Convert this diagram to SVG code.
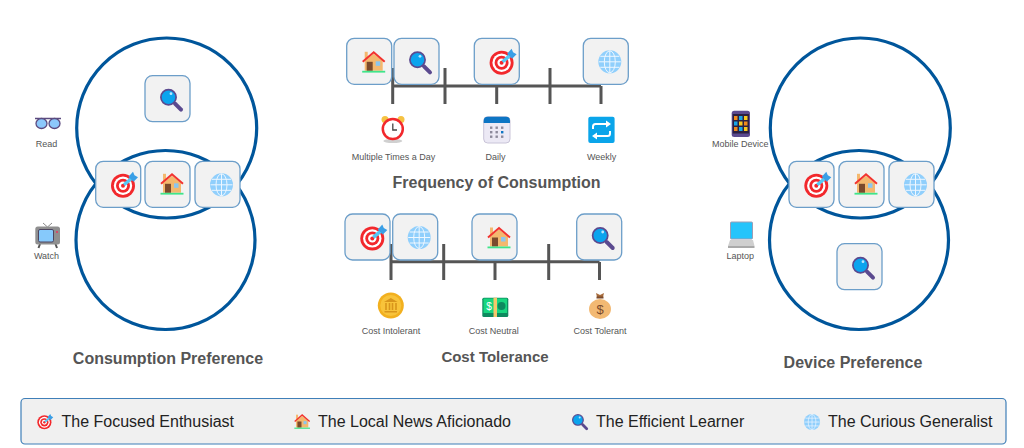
<svg xmlns="http://www.w3.org/2000/svg" width="1024" height="448" viewBox="0 0 1024 448">
<style>
text{font-family:"Liberation Sans",Arial,sans-serif}
.venn{fill:none;stroke:#00569b;stroke-width:3.2}
.box{fill:#f2f2f2;stroke:#6c9ec9;stroke-width:1.3}
.axis{stroke:#555;stroke-width:3;fill:none}
.title{font-size:16px;font-weight:bold;fill:#555;text-anchor:middle}
.lab{font-size:9px;fill:#555;text-anchor:middle}
.leg{font-size:16px;fill:#222}
</style>
<defs>
<g id="i-target">
<circle cx="12" cy="14" r="12" fill="#f2282c"/><circle cx="12" cy="14" r="9.200" fill="#fff"/><circle cx="12" cy="14" r="7" fill="#f2282c"/><circle cx="12" cy="14" r="4.200" fill="#fff"/><circle cx="12" cy="14" r="2" fill="#f2282c"/>
<path d="M13 13L22 5.500" stroke="#55c8f5" stroke-width="3.400"/>
<path d="M17.500 5L22 0L23.500 3.500L27 5.500L22.500 10Z" fill="#3a9fe6"/>
</g>
<g id="i-home">
<rect x="3" y="1" width="3" height="7" fill="#f4b86e"/>
<path d="M3 10L12 3L21 10V20H3Z" fill="#f4b86e"/>
<rect x="5" y="11" width="6" height="9" fill="#7b4a2c"/>
<rect x="14" y="10.500" width="4.500" height="4.500" fill="#8cc6ee"/>
<path d="M1 11L12 1.500L23 11" fill="none" stroke="#f2332f" stroke-width="2"/>
<rect x="0.500" y="20" width="23" height="1.800" fill="#3fe58a"/>
</g>
<g id="i-mag">
<path d="M15 15L21 21" stroke="#5b4a8f" stroke-width="4" stroke-linecap="round"/>
<circle cx="8.500" cy="8.500" r="7.600" fill="#0ba4ee" stroke="#5b4a8f" stroke-width="1.700"/>
<circle cx="11" cy="5" r="1.400" fill="#b8e8ff"/>
</g>
<g id="i-globe">
<circle cx="11.500" cy="11.500" r="11.500" fill="#90cffc"/>
<g fill="none" stroke="#eef7ff" stroke-width="1">
<ellipse cx="11.500" cy="11.500" rx="5.500" ry="11"/>
<path d="M11.500 0.500V22.500M0.500 11.500H22.500M2 6H21M2 17H21"/>
</g>
</g>
<g id="box"><rect width="45" height="46" rx="7.500" class="box"/></g>
</defs>

<g id="connectors">
<circle class="venn" cx="166.700" cy="128" r="90"/>
<circle class="venn" cx="165.500" cy="240" r="89.500"/>
<circle class="venn" cx="860.300" cy="128" r="90"/>
<circle class="venn" cx="859" cy="240" r="89.500"/>
<path class="axis" d="M393 86H601M392.700 68V104M445 68V104M496.700 86V104M550 68V104M601 86V104"/>
<path class="axis" d="M391 261.700H599.500M391 244V280M443.700 244V280M495 262V280M548.700 244V280M599.500 262V280"/>
</g>

<g id="venn-left-mag" transform="translate(145,75.700)"><use href="#box"/><use href="#i-mag" x="15" y="13"/></g>
<g id="venn-left-target" transform="translate(95.700,161.300)"><use href="#box"/><use href="#i-target" x="15.300" y="10.400"/></g>
<g id="venn-left-home" transform="translate(145,161.300)"><use href="#box"/><use href="#i-home" x="15" y="11.500"/></g>
<g id="venn-left-globe" transform="translate(195,161.300)"><use href="#box"/><use href="#i-globe" x="15" y="12"/></g>

<g id="venn-right-target" transform="translate(789,161.300)"><use href="#box"/><use href="#i-target" x="15.300" y="10.400"/></g>
<g id="venn-right-home" transform="translate(839,161.300)"><use href="#box"/><use href="#i-home" x="15" y="11.500"/></g>
<g id="venn-right-globe" transform="translate(889,161.300)"><use href="#box"/><use href="#i-globe" x="15" y="12"/></g>
<g id="venn-right-mag" transform="translate(837,243.700)"><use href="#box"/><use href="#i-mag" x="15" y="13"/></g>

<g id="freq-home" transform="translate(346.700,38.300)"><use href="#box"/><use href="#i-home" x="15" y="12.500"/></g>
<g id="freq-mag" transform="translate(394,38.300)"><use href="#box"/><use href="#i-mag" x="15" y="13"/></g>
<g id="freq-target" transform="translate(474.300,38.300)"><use href="#box"/><use href="#i-target" x="15.300" y="10.400"/></g>
<g id="freq-globe" transform="translate(583.300,38.300)"><use href="#box"/><use href="#i-globe" x="15" y="12"/></g>

<g id="cost-target" transform="translate(345,214)"><use href="#box"/><use href="#i-target" x="15.300" y="10.400"/></g>
<g id="cost-globe" transform="translate(392.700,214)"><use href="#box"/><use href="#i-globe" x="15" y="12"/></g>
<g id="cost-home" transform="translate(472,214)"><use href="#box"/><use href="#i-home" x="15" y="12.500"/></g>
<g id="cost-mag" transform="translate(576.700,214)"><use href="#box"/><use href="#i-mag" x="15" y="13"/></g>

<g id="read">
<path d="M35 118.500H61" stroke="#5b4a7f" stroke-width="1.500"/>
<ellipse cx="41.500" cy="123.500" rx="5.500" ry="5" fill="#8cc8fb" stroke="#5b4a7f" stroke-width="1.300"/>
<ellipse cx="54.500" cy="123.500" rx="5.500" ry="5" fill="#8cc8fb" stroke="#5b4a7f" stroke-width="1.300"/>
<text class="lab" x="46.500" y="147">Read</text>
</g>
<g id="watch">
<path d="M43 223L47.500 227L52 223" fill="none" stroke="#8a8a8a" stroke-width="1"/>
<path d="M40 244L38.500 248M55.500 244L57 248" stroke="#555" stroke-width="2"/>
<rect x="35.300" y="226.500" width="24.700" height="18" rx="2.500" fill="#8f8f8f"/>
<rect x="38.500" y="229.500" width="15" height="12.500" rx="1.500" fill="#86c9fb" stroke="#4d4560"/>
<circle cx="57" cy="232" r="1" fill="#e8335f"/>
<text class="lab" x="46.500" y="258.700">Watch</text>
</g>
<g id="mobile">
<rect x="731.700" y="110.700" width="18.300" height="26.300" rx="2.500" fill="#5b4a8f"/>
<rect x="732.700" y="114" width="16.300" height="19.500" fill="#2c2040"/>
<g fill="#f08a1d"><rect x="734" y="116" width="3.500" height="4"/><rect x="744" y="121.500" width="3.500" height="4"/><rect x="734" y="127" width="3.500" height="4"/></g>
<g fill="#19a6e8"><rect x="739" y="116" width="3.500" height="4"/><rect x="734" y="121.500" width="3.500" height="4"/><rect x="739" y="127" width="3.500" height="4"/></g>
<g fill="#f9c81e"><rect x="744" y="116" width="3.500" height="4"/><rect x="739" y="121.500" width="3.500" height="4"/><rect x="744" y="127" width="3.500" height="4"/></g>
<text class="lab" x="740.300" y="147">Mobile Device</text>
</g>
<g id="laptop">
<rect x="730.500" y="222" width="22" height="17" rx="1" fill="#25c4fb" stroke="#9d9db5"/>
<path d="M730 240H753L754.500 246H728Z" fill="#cfcfcf"/>
<rect x="728" y="246" width="26.500" height="2" fill="#a9a9a9"/>
<text class="lab" x="740.300" y="258.700">Laptop</text>
</g>
<g id="multi">
<circle cx="385" cy="119.500" r="3.500" fill="#f5c242"/><circle cx="401" cy="119.500" r="3.500" fill="#f5c242"/>
<ellipse cx="392.800" cy="141" rx="9.500" ry="2" fill="#d0d0d0"/>
<circle cx="392.800" cy="129" r="10" fill="#fff" stroke="#f2282c" stroke-width="2.500"/>
<path d="M392.800 123.500V130H397" fill="none" stroke="#444" stroke-width="1.300"/>
<text class="lab" x="393.500" y="160">Multiple Times a Day</text>
</g>
<g id="daily">
<rect x="483.700" y="116.700" width="26.300" height="26.300" rx="4" fill="#ece9f5" stroke="#c9c4d8"/>
<path d="M483.700 123V120.700A4 4 0 0 1 487.700 116.700H506A4 4 0 0 1 510 120.700V123Z" fill="#0d75c4"/>
<g fill="#8d8a9c"><rect x="490" y="126.500" width="2.400" height="2.400"/><rect x="495.500" y="126.500" width="2.400" height="2.400"/><rect x="501" y="126.500" width="2.400" height="2.400"/><rect x="490" y="131" width="2.400" height="2.400"/><rect x="495.500" y="131" width="2.400" height="2.400"/><rect x="490" y="135.500" width="2.400" height="2.400"/><rect x="495.500" y="135.500" width="2.400" height="2.400"/><rect x="501" y="135.500" width="2.400" height="2.400"/></g>
<rect x="501" y="131" width="2.400" height="2.400" fill="#0d75c4"/>
<text class="lab" x="495.500" y="160">Daily</text>
</g>
<g id="weekly">
<rect x="588.300" y="116.700" width="26.300" height="26.300" rx="2" fill="#0aa5ea"/>
<path d="M593 129V126.500A2.500 2.500 0 0 1 595.500 124H607M610 131V133.500A2.500 2.500 0 0 1 607.500 136H596" fill="none" stroke="#fff" stroke-width="2"/>
<path d="M606 120.500L611 124L606 127.500ZM597 132.500L592 136L597 139.500Z" fill="#fff"/>
<text class="lab" x="601.700" y="160">Weekly</text>
</g>
<g id="intolerant">
<circle cx="390.800" cy="305.500" r="13" fill="#f2b01f"/>
<circle cx="390.800" cy="305.500" r="10.500" fill="#f8c33a"/>
<path d="M384 302L390.800 298L397.600 302ZM384.500 311H397V312.500H384.500Z" fill="#d8951b"/>
<path d="M386 303V310M389.500 303V310M392.500 303V310M396 303V310" stroke="#d8951b" stroke-width="1.600"/>
<text class="lab" x="391" y="334">Cost Intolerant</text>
</g>
<g id="neutral">
<rect x="482.300" y="297.700" width="26" height="19.300" rx="1.500" fill="#0d8a5f"/>
<rect x="483.500" y="298.500" width="23.600" height="14.500" fill="#17d67f"/>
<rect x="493.500" y="297.700" width="3.500" height="19.300" fill="#f5c76a"/>
<circle cx="501.500" cy="306" r="4" fill="#0d8a5f"/>
<text x="489" y="310" font-size="10" fill="#fff" text-anchor="middle">$</text>
<text class="lab" x="493.700" y="334">Cost Neutral</text>
</g>
<g id="tolerant">
<path d="M596 293L600 295L604 293L603 297H597Z" fill="#a66a3a"/>
<rect x="596.500" y="296.500" width="7" height="2" fill="#7b4a2c"/>
<ellipse cx="600" cy="309" rx="11" ry="10" fill="#f2b973"/>
<text x="600" y="314" font-size="13" fill="#7b4a2c" text-anchor="middle">$</text>
<text class="lab" x="600" y="334">Cost Tolerant</text>
</g>

<g id="titles">
<text class="title" x="168" y="363.500">Consumption Preference</text>
<text class="title" x="496.500" y="188">Frequency of Consumption</text>
<text class="title" x="495" y="362" style="font-size:15px">Cost Tolerance</text>
<text class="title" x="853" y="367.500">Device Preference</text>
</g>

<g id="legend">
<rect x="21" y="398.500" width="985" height="45.500" rx="4" fill="#f0f0f0" stroke="#3f7fb8" stroke-width="1.200"/>
<use href="#i-target" transform="translate(37.300,414) scale(0.590)"/>
<text class="leg" x="61.500" y="427">The Focused Enthusiast</text>
<use href="#i-home" transform="translate(294,414) scale(0.680)"/>
<text class="leg" x="318" y="427">The Local News Aficionado</text>
<use href="#i-mag" transform="translate(572,414) scale(0.700)"/>
<text class="leg" x="596" y="427">The Efficient Learner</text>
<use href="#i-globe" transform="translate(804,414) scale(0.700)"/>
<text class="leg" x="828" y="427">The Curious Generalist</text>
</g>
</svg>
